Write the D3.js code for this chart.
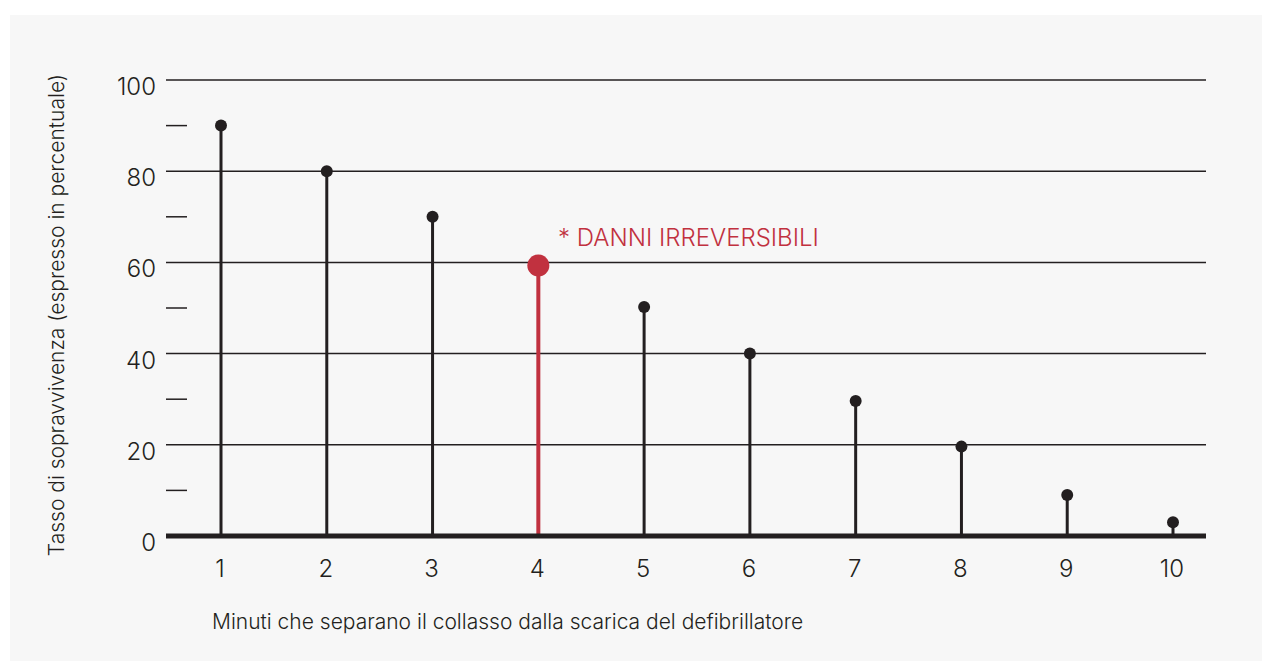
<!DOCTYPE html>
<html>
<head>
<meta charset="utf-8">
<script src="https://cdn.jsdelivr.net/npm/d3@7"></script>
<style>
  body { margin: 0; background: #fff; }
  svg { display: block; font-family: Inter, "Noto Sans", sans-serif; font-weight: 300; }
</style>
</head>
<body>
<svg id="chart"></svg>
<script>
const minutes = [1, 2, 3, 4, 5, 6, 7, 8, 9, 10];
const survival = [90, 80, 70, 59.3, 50.2, 40, 29.6, 19.6, 9, 3];
const highlightMinute = 4;
const yMajorTicks = [0, 20, 40, 60, 80, 100];
const yMinorTicks = [10, 30, 50, 70, 90];

const width = 1262;
const height = 661;
const ink = "#231f20";
const red = "#c1313f";

const svg = d3.select("#chart").attr("width", width).attr("height", height);

svg.append("rect")
  .attr("x", 10).attr("y", 15)
  .attr("width", width - 10).attr("height", height - 15)
  .attr("fill", "#f7f7f7");

const x = d3.scalePoint().domain(minutes).range([221, 1173]);
const y = d3.scaleLinear().domain([0, 100]).range([536, 80]);
const xLeft = 166, xRight = 1206;

// grid lines
svg.append("g")
  .selectAll("line")
  .data(yMajorTicks.filter(d => d > 0))
  .enter()
  .append("line")
  .attr("x1", xLeft).attr("x2", xRight)
  .attr("y1", d => y(d)).attr("y2", d => y(d))
  .attr("stroke", ink).attr("stroke-width", 1.5);

// minor ticks
svg.append("g")
  .selectAll("line")
  .data(yMinorTicks)
  .enter()
  .append("line")
  .attr("x1", xLeft).attr("x2", xLeft + 21)
  .attr("y1", d => y(d)).attr("y2", d => y(d))
  .attr("stroke", ink).attr("stroke-width", 1.5);

// y labels
svg.append("g")
  .selectAll("text")
  .data(yMajorTicks)
  .enter()
  .append("text")
  .attr("x", 156)
  .attr("y", d => y(d) + 15)
  .attr("text-anchor", "end")
  .attr("font-size", 24)
  .attr("fill", ink)
  .text(d => d);

// x labels
svg.append("g")
  .selectAll("text")
  .data(minutes)
  .enter()
  .append("text")
  .attr("x", d => x(d) - 1)
  .attr("y", 577)
  .attr("text-anchor", "middle")
  .attr("font-size", 24)
  .attr("fill", ink)
  .text(d => d);

// stems
const points = minutes.map((m, i) => ({ m, v: survival[i], hot: m === highlightMinute }));

svg.append("g")
  .selectAll("line")
  .data(points)
  .enter()
  .append("line")
  .attr("x1", d => x(d.m)).attr("x2", d => x(d.m))
  .attr("y1", y(0)).attr("y2", d => y(d.v))
  .attr("stroke", d => d.hot ? red : ink)
  .attr("stroke-width", d => d.hot ? 4 : 3);

// baseline
svg.append("line")
  .attr("x1", xLeft).attr("x2", xRight)
  .attr("y1", y(0)).attr("y2", y(0))
  .attr("stroke", ink).attr("stroke-width", 5);

// dots
svg.append("g")
  .selectAll("circle")
  .data(points)
  .enter()
  .append("circle")
  .attr("cx", d => x(d.m))
  .attr("cy", d => y(d.v))
  .attr("r", d => d.hot ? 11 : 6)
  .attr("fill", d => d.hot ? red : ink);

svg.append("text")
  .attr("x", 558).attr("y", 246)
  .attr("font-size", 24)
  .attr("fill", red)
  .text("* DANNI IRREVERSIBILI");

svg.append("text")
  .attr("transform", "translate(64, 315) rotate(-90)")
  .attr("text-anchor", "middle")
  .attr("font-size", 21)
  .attr("fill", ink)
  .text("Tasso di sopravvivenza (espresso in percentuale)");

svg.append("text")
  .attr("x", 212).attr("y", 629)
  .attr("font-size", 21)
  .attr("fill", ink)
  .text("Minuti che separano il collasso dalla scarica del defibrillatore");
</script>
</body>
</html>
